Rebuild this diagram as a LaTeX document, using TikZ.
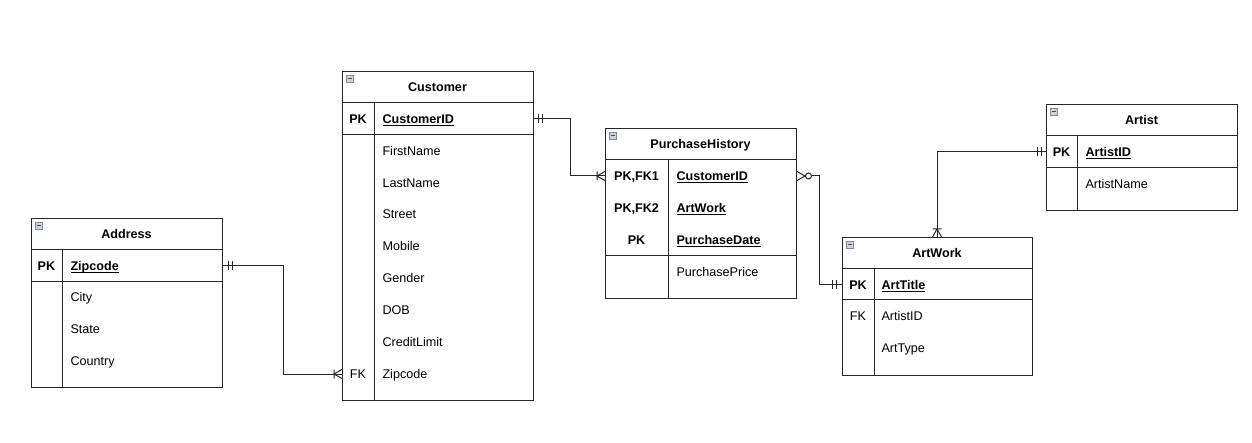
\documentclass[tikz,border=0pt]{standalone}
\usepackage{fontspec}
\setmainfont{Liberation Sans}
\usetikzlibrary{calc}
\definecolor{iconfill}{RGB}{205,212,222}
\definecolor{icondraw}{RGB}{130,140,155}
\newcommand\fsz{\fontsize{12.6}{15}\selectfont}
\newcommand\ukey[1]{\underline{\smash{#1}}}
\begin{document}
\begin{tikzpicture}[x=1pt,y=-1pt,line width=1pt,
  tbl/.style={draw=black!85,rectangle,inner sep=0pt,anchor=north west},
  sep/.style={draw=black!85,line width=1pt},
  icon/.style={draw=icondraw,fill=iconfill,line width=0.7pt},
  iconbar/.style={draw=black!70,line width=1pt},
  hdr/.style={font=\fsz\bfseries,anchor=base,inner sep=0pt},
  key/.style={font=\fsz\bfseries,anchor=base,inner sep=0pt},
  fk/.style={font=\fsz,anchor=base,inner sep=0pt},
  keyf/.style={font=\fsz\bfseries,anchor=base west,inner sep=0pt},
  fld/.style={font=\fsz,anchor=base west,inner sep=0pt},
  conn/.style={draw=black!85,line width=1pt},
  ermark/.style={draw=black!85,line width=1pt}]
\useasboundingbox (0,0) rectangle (1252,443);

% ---------- Customer ----------
\node[tbl,minimum width=191pt,minimum height=329pt] (cust) at (342,71) {};
\draw[sep] ($(cust.north west)+(0,32)$) -- ++(191,0);
\draw[sep] ($(cust.north west)+(0,64)$) -- ++(191,0);
\draw[sep] ($(cust.north west)+(32,32)$) -- ($(cust.south west)+(32,0)$);
\draw[icon] ($(cust.north west)+(4,4)$) rectangle ++(7.5,7.5);
\draw[iconbar] ($(cust.north west)+(5.5,7.75)$) -- ++(4.5,0);
\node[hdr] (custh) at (437.5,91.5) {Customer};
\node[key] (cpk) at (358,123.5) {PK};
\node[keyf] (c1) at (382,123.5) {\ukey{CustomerID}};
\node[fld] (c2) at (382,155.5) {FirstName};
\node[fld] (c3) at (382,187.5) {LastName};
\node[fld] (c4) at (382,218.5) {Street};
\node[fld] (c5) at (382,250.5) {Mobile};
\node[fld] (c6) at (382,282.5) {Gender};
\node[fld] (c7) at (382,314.5) {DOB};
\node[fld] (c8) at (382,346.5) {CreditLimit};
\node[fk] (cfk) at (358,378.5) {FK};
\node[fld] (c9) at (382,378.5) {Zipcode};

% ---------- Address ----------
\node[tbl,minimum width=191pt,minimum height=169pt] (addr) at (31,218) {};
\draw[sep] ($(addr.north west)+(0,32)$) -- ++(191,0);
\draw[sep] ($(addr.north west)+(0,64)$) -- ++(191,0);
\draw[sep] ($(addr.north west)+(31,32)$) -- ($(addr.south west)+(31,0)$);
\draw[icon] ($(addr.north west)+(4,4)$) rectangle ++(7.5,7.5);
\draw[iconbar] ($(addr.north west)+(5.5,7.75)$) -- ++(4.5,0);
\node[hdr] (addrh) at (126.5,238.5) {Address};
\node[key] (apk) at (46.5,270.5) {PK};
\node[keyf] (a1) at (70,270.5) {\ukey{Zipcode}};
\node[fld] (a2) at (70,301.5) {City};
\node[fld] (a3) at (70,333.5) {State};
\node[fld] (a4) at (70,365.5) {Country};

% ---------- PurchaseHistory ----------
\node[tbl,minimum width=191pt,minimum height=170pt] (ph) at (605,128) {};
\draw[sep] ($(ph.north west)+(0,32)$) -- ++(191,0);
\draw[sep] ($(ph.north west)+(0,128)$) -- ++(191,0);
\draw[sep] ($(ph.north west)+(63,32)$) -- ($(ph.south west)+(63,0)$);
\draw[icon] ($(ph.north west)+(4,4)$) rectangle ++(7.5,7.5);
\draw[iconbar] ($(ph.north west)+(5.5,7.75)$) -- ++(4.5,0);
\node[hdr] (phh) at (700.5,148.5) {PurchaseHistory};
\node[key] (pk1) at (636.5,180.5) {PK,FK1};
\node[keyf] (p1) at (676,180.5) {\ukey{CustomerID}};
\node[key] (pk2) at (636.5,212.5) {PK,FK2};
\node[keyf] (p2) at (676,212.5) {\ukey{ArtWork}};
\node[key] (pk3) at (636.5,244.5) {PK};
\node[keyf] (p3) at (676,244.5) {\ukey{PurchaseDate}};
\node[fld] (p4) at (676,276.5) {PurchasePrice};

% ---------- ArtWork ----------
\node[tbl,minimum width=190pt,minimum height=138pt] (art) at (842,237) {};
\draw[sep] ($(art.north west)+(0,32)$) -- ++(190,0);
\draw[sep] ($(art.north west)+(0,63)$) -- ++(190,0);
\draw[sep] ($(art.north west)+(32,32)$) -- ($(art.south west)+(32,0)$);
\draw[icon] ($(art.north west)+(4,4)$) rectangle ++(7.5,7.5);
\draw[iconbar] ($(art.north west)+(5.5,7.75)$) -- ++(4.5,0);
\node[hdr] (arth) at (937,257.5) {ArtWork};
\node[key] (wpk) at (858,289.5) {PK};
\node[keyf] (w1) at (881,289.5) {\ukey{ArtTitle}};
\node[fk] (wfk) at (858,320.5) {FK};
\node[fld] (w2) at (881,320.5) {ArtistID};
\node[fld] (w3) at (881,352.5) {ArtType};

% ---------- Artist ----------
\node[tbl,minimum width=191pt,minimum height=106pt] (artist) at (1046,104) {};
\draw[sep] ($(artist.north west)+(0,32)$) -- ++(191,0);
\draw[sep] ($(artist.north west)+(0,64)$) -- ++(191,0);
\draw[sep] ($(artist.north west)+(31,32)$) -- ($(artist.south west)+(31,0)$);
\draw[icon] ($(artist.north west)+(4,4)$) rectangle ++(7.5,7.5);
\draw[iconbar] ($(artist.north west)+(5.5,7.75)$) -- ++(4.5,0);
\node[hdr] (artisth) at (1141.5,124.5) {Artist};
\node[key] (rpk) at (1061.5,156.5) {PK};
\node[keyf] (r1) at (1085,156.5) {\ukey{ArtistID}};
\node[fld] (r2) at (1085,188.5) {ArtistName};

% ---------- connectors ----------
% Customer -> PurchaseHistory
\coordinate (e1a) at (cust.east |- 0,119);
\coordinate (e1b) at (ph.west |- 0,176);
\draw[conn] (e1a) -- ++(36,0) |- (e1b);
\draw[ermark] ($(e1a)+(4,-4.5)$) -- ++(0,9) ($(e1a)+(8,-4.5)$) -- ++(0,9);
\draw[ermark] ($(e1b)+(0,-4.5)$) -- ++(-8,4.5) -- ++(8,4.5) ($(e1b)+(-8,-4.5)$) -- ++(0,9);

% Address -> Customer
\coordinate (e2a) at (addr.east |- 0,266);
\coordinate (e2b) at (cust.west |- 0,374);
\draw[conn] (e2a) -- ++(60,0) |- (e2b);
\draw[ermark] ($(e2a)+(5,-4.5)$) -- ++(0,9) ($(e2a)+(9,-4.5)$) -- ++(0,9);
\draw[ermark] ($(e2b)+(0,-4.5)$) -- ++(-8,4.5) -- ++(8,4.5) ($(e2b)+(-8,-4.5)$) -- ++(0,9);

% PurchaseHistory -> ArtWork
\coordinate (e3a) at (ph.east |- 0,176);
\coordinate (e3b) at (art.west |- 0,285);
\draw[conn] ($(e3a)+(14.5,0)$) -- ++(7.5,0) |- (e3b);
\draw[ermark] ($(e3a)+(0,-4.5)$) -- ++(8,4.5) -- ++(-8,4.5);
\draw[ermark] ($(e3a)+(11.5,0)$) circle (3);
\draw[ermark] ($(e3b)+(-6,-4.5)$) -- ++(0,9) ($(e3b)+(-9.5,-4.5)$) -- ++(0,9);

% Artist -> ArtWork
\coordinate (e4a) at (artist.west |- 0,152);
\coordinate (e4b) at (art.north -| 937,0);
\draw[conn] (e4a) -| (e4b);
\draw[ermark] ($(e4a)+(-5,-4.5)$) -- ++(0,9) ($(e4a)+(-8.5,-4.5)$) -- ++(0,9);
\draw[ermark] ($(e4b)+(-4.5,0)$) -- ++(4.5,-8) -- ++(4.5,8) ($(e4b)+(-4.5,-8)$) -- ++(9,0);
\end{tikzpicture}
\end{document}
